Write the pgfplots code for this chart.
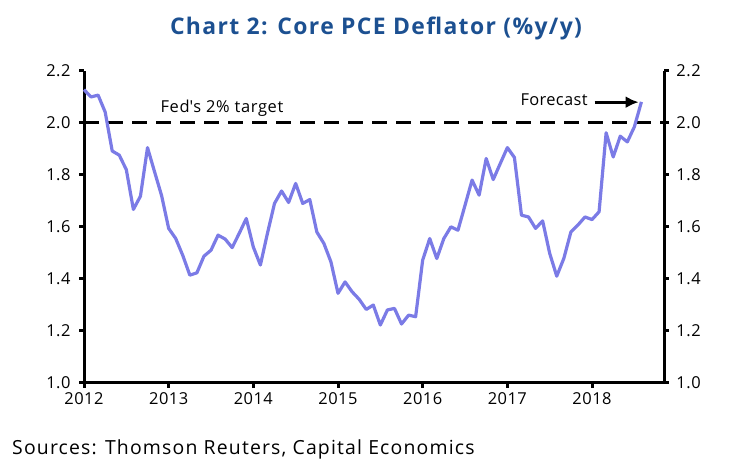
\documentclass[border=0pt]{standalone}
\usepackage{pgfplots}
\pgfplotsset{compat=1.18}
\usepackage{fontspec}
\setmainfont{Open Sans}
\usetikzlibrary{arrows.meta}
\definecolor{linec}{RGB}{123,123,230}
\definecolor{titlec}{RGB}{28,80,145}
\begin{document}
\begin{tikzpicture}[x=1bp,y=1bp]
\useasboundingbox (0,0) rectangle (750,466);
\node[anchor=base, font=\fontsize{23}{26}\selectfont\bfseries\addfontfeature{LetterSpace=6}, text=titlec, inner sep=0] at (376,431) {Chart 2: Core PCE Deflator (\%y/y)};
\node[anchor=base west, font=\fontsize{19.5}{22}\selectfont\addfontfeature{LetterSpace=6}, inner sep=0] at (12,11) {Sources: Thomson Reuters, Capital Economics};
\begin{axis}[
  at={(84bp,83.3bp)}, anchor=south west, scale only axis,
  width=580bp, height=311.7bp,
  xmin=2012, xmax=2018.85, ymin=1, ymax=2.2,
  axis x line*=bottom, axis y line*=left,
  axis line style={line width=3bp},
  tick style={line width=3bp, black},
  major tick length=5bp,
  tick align=outside,
  xtick={2012,2013,...,2018},
  ytick={1.0,1.2,...,2.2},
  xticklabel style={font=\fontsize{16.5}{20}\selectfont\addfontfeature{LetterSpace=3}, yshift=-1bp},
  yticklabel style={font=\fontsize{16.5}{20}\selectfont\addfontfeature{LetterSpace=3}, xshift=-5bp},
  /pgf/number format/assume math mode=true,
  x tick label style={/pgf/number format/1000 sep={}},
  y tick label style={/pgf/number format/.cd, fixed, fixed zerofill, precision=1},
  clip=false,
]
\addplot[black, line width=3bp, dash pattern=on 15bp off 9bp] coordinates {(2012,2) (2018.85,2)};
\addplot[linec, line width=3.2bp, line join=round] table[x expr=2012+\thisrow{m}/12, y=v] {
m v
0 2.128
1 2.100
2 2.107
3 2.042
4 1.892
5 1.876
6 1.820
7 1.667
8 1.718
9 1.905
10 1.812
11 1.720
12 1.594
13 1.555
14 1.490
15 1.414
16 1.423
17 1.487
18 1.510
19 1.568
20 1.553
21 1.520
22 1.575
23 1.632
24 1.522
25 1.453
26 1.575
27 1.690
28 1.738
29 1.694
30 1.767
31 1.690
32 1.705
33 1.580
34 1.536
35 1.465
36 1.344
37 1.388
38 1.350
39 1.321
40 1.282
41 1.299
42 1.222
43 1.280
44 1.286
45 1.226
46 1.260
47 1.254
48 1.472
49 1.555
50 1.478
51 1.555
52 1.600
53 1.587
54 1.683
55 1.780
56 1.722
57 1.863
58 1.782
59 1.844
60 1.905
61 1.867
62 1.645
63 1.638
64 1.594
65 1.623
66 1.498
67 1.410
68 1.478
69 1.580
70 1.607
71 1.638
72 1.628
73 1.658
74 1.962
75 1.869
76 1.949
77 1.927
78 1.985
79 2.081
};
\node[anchor=base, font=\fontsize{16.5}{20}\selectfont\addfontfeature{LetterSpace=4}, inner sep=0] at (axis cs:2013.63,2.042) {Fed\textquotesingle s 2\% target};
\node[anchor=base east, font=\fontsize{16.5}{20}\selectfont\addfontfeature{LetterSpace=2}, inner sep=0] at (axis cs:2017.95,2.068) {Forecast};
\draw[-{Latex[length=13bp,width=12bp]}, line width=3bp] (axis cs:2018.03,2.08) -- (axis cs:2018.55,2.08);
\end{axis}
\begin{axis}[
  at={(84bp,83.3bp)}, anchor=south west, scale only axis,
  width=580bp, height=311.7bp,
  xmin=2012, xmax=2018.85, ymin=1, ymax=2.2,
  axis x line=none, axis y line*=right,
  axis line style={line width=3bp},
  tick style={line width=3bp, black},
  major tick length=5bp,
  tick align=outside,
  ytick={1.0,1.2,...,2.2},
  yticklabel style={font=\fontsize{16.5}{20}\selectfont\addfontfeature{LetterSpace=3}, xshift=4bp},
  /pgf/number format/assume math mode=true,
  y tick label style={/pgf/number format/.cd, fixed, fixed zerofill, precision=1},
]
\addplot[draw=none] coordinates {(2012,1)};
\end{axis}
\end{tikzpicture}
\end{document}
